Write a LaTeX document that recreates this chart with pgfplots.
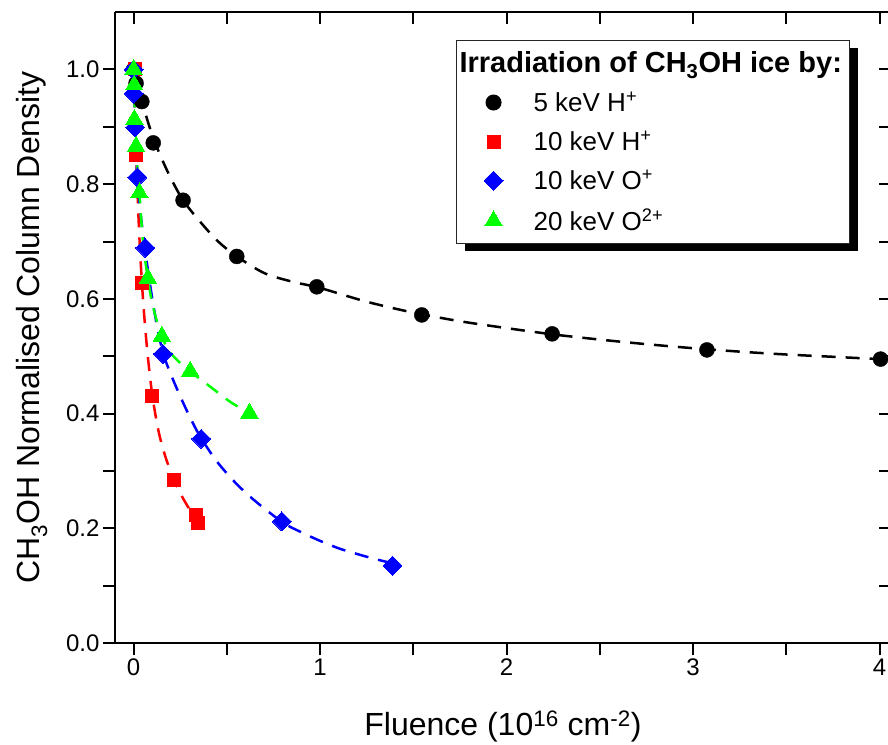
\documentclass[border=0pt]{standalone}
\usepackage{fontspec}
\setmainfont{Liberation Sans}
\usepackage{pgfplots}
\pgfplotsset{compat=1.18}
\usetikzlibrary{shadows,calc}

\pgfplotstableread{
x y
0 1.0
0.013 0.976
0.044 0.944
0.105 0.872
0.265 0.772
0.553 0.674
0.982 0.621
1.545 0.572
2.244 0.539
3.074 0.511
4.005 0.495
}\blackdata

\pgfplotstableread{
x y
0.008 1.0
0.013 0.851
0.044 0.627
0.098 0.430
0.217 0.284
0.335 0.224
0.344 0.210
}\reddata

\pgfplotstableread{
x y
0 1.0
0 0.958
0.008 0.899
0.02 0.812
0.062 0.689
0.157 0.504
0.362 0.356
0.794 0.212
1.388 0.135
}\bluedata

\pgfplotstableread{
x y
0 1.0
0.003 0.973
0.004 0.913
0.013 0.866
0.031 0.785
0.076 0.636
0.151 0.535
0.303 0.474
0.621 0.401
}\greendata

\pgfplotstableread{
x y
0 1.0
0.02 0.97
0.05 0.937
0.1 0.885
0.15 0.845
0.2 0.810
0.265 0.772
0.35 0.737
0.45 0.701
0.553 0.674
0.7 0.645
0.85 0.630
1.0 0.619
1.25 0.595
1.5 0.576
1.75 0.561
2.0 0.549
2.25 0.538
2.5 0.529
2.75 0.521
3.0 0.514
3.25 0.508
3.5 0.503
3.75 0.499
4.06 0.494
}\blackfit

\pgfplotstableread{
x y
0 1.0
0.005 0.95
0.01 0.885
0.015 0.835
0.025 0.75
0.035 0.68
0.045 0.625
0.055 0.578
0.07 0.52
0.085 0.472
0.1 0.432
0.12 0.392
0.14 0.36
0.17 0.325
0.2 0.298
0.23 0.275
0.26 0.255
0.3 0.233
0.345 0.212
}\redfit

\pgfplotstableread{
x y
0 1.0
0.01 0.89
0.02 0.815
0.035 0.755
0.05 0.715
0.07 0.665
0.1 0.6
0.13 0.545
0.16 0.503
0.2 0.468
0.25 0.43
0.3 0.395
0.36 0.358
0.45 0.315
0.55 0.278
0.65 0.248
0.8 0.210
0.9 0.193
1.0 0.178
1.1 0.165
1.2 0.155
1.3 0.146
1.388 0.139
}\bluefit

\pgfplotstableread{
x y
0 1.0
0.01 0.89
0.02 0.83
0.031 0.785
0.05 0.70
0.076 0.636
0.1 0.592
0.13 0.555
0.16 0.527
0.2 0.505
0.25 0.488
0.3 0.474
0.374 0.456
0.45 0.437
0.52 0.42
0.621 0.40
}\greenfit

\begin{document}
\begin{tikzpicture}
\pgfplotsset{
  common/.style={
    scale only axis, width=775.8pt, height=630.9pt,
    xmin=-0.1, xmax=4.06, ymin=0, ymax=1.1,
    xtick={0,1,2,3,4}, minor xtick={0.5,1.5,2.5,3.5},
    ytick={0,0.2,0.4,0.6,0.8,1.0}, minor ytick={0.1,0.3,0.5,0.7,0.9},
    major tick length=12pt, minor tick length=12pt,
    tick style={line width=2pt, black},
    axis line style={line width=2pt, black, -},
  },
  markleg/.style={legend image code/.code={%
    \pgfpathmoveto{\pgfpoint{-31pt}{0pt}}\pgfpathlineto{\pgfpoint{38pt}{0pt}}\pgfusepath{use as bounding box}%
    \draw[mark repeat=2,mark phase=2,##1,only marks] plot coordinates {(-1pt,0pt) (0pt,0pt) (1pt,0pt)};}},
  fit/.style={forget plot, no marks, smooth, line width=2.5pt, dash pattern=on 14pt off 10pt},
}
\begin{axis}[
  common, name=main,
  axis x line*=bottom, axis y line*=left,
  tick align=outside,
  /pgf/number format/assume math mode=true,
  ticklabel style={font=\fontsize{24}{28}\selectfont},
  yticklabel style={/pgf/number format/.cd, fixed, fixed zerofill, precision=1},
  xlabel={Fluence (10\textsuperscript{16} cm\textsuperscript{-2})},
  ylabel={CH\textsubscript{3}OH Normalised Column Density},
  every axis x label/.style={at={(axis description cs:0.5,-0.147)}, anchor=base, font=\fontsize{32}{38}\selectfont},
  every axis y label/.style={at={(axis description cs:-0.0967,0.5)}, rotate=90, anchor=base, font=\fontsize{32}{38}\selectfont},
  legend cell align=left,
  legend style={at={(axis description cs:0.4396,0.9558)}, anchor=north west,
    draw=black!85, line width=1pt, fill=white,
    drop shadow={shadow xshift=8pt, shadow yshift=-8pt, fill=black, opacity=1},
    font=\fontsize{26}{30}\selectfont, row sep=14pt, inner xsep=6pt, inner ysep=9pt},
]
\addlegendimage{empty legend}
\addlegendentry{\hspace*{-74pt}\fontsize{29}{34}\selectfont\bfseries Irradiation of CH\textsubscript{3}OH ice by:\vrule depth 7pt width 0pt}

\addplot[only marks, mark=*, mark size=7.5pt, black, markleg] table {\blackdata};
\addlegendentry{5 keV H\textsuperscript{+}}
\addplot[only marks, mark=square*, mark size=6.5pt, red, mark options={draw=red, fill=red, line width=0pt}, markleg] table {\reddata};
\addlegendentry{10 keV H\textsuperscript{+}}
\addplot[only marks, mark=square*, mark size=6.7pt, blue, mark options={rotate=45, draw=blue, fill=blue, line width=0pt}, markleg] table {\bluedata};
\addlegendentry{10 keV O\textsuperscript{+}}
\addplot[only marks, mark=triangle*, mark size=10pt, green, mark options={draw=green, fill=green, line width=0pt}, markleg] table {\greendata};
\addlegendentry{20 keV O\textsuperscript{2+}}

\addplot[fit, black] table {\blackfit};
\addplot[fit, red] table {\redfit};
\addplot[fit, blue] table {\bluefit};
\addplot[fit, green] table {\greenfit};
\end{axis}
\begin{axis}[
  common,
  axis x line*=top, axis y line*=right,
  tick align=inside,
  xticklabels={}, yticklabels={},
]
\addplot[draw=none, forget plot] coordinates {(0,0)};
\end{axis}
\pgfresetboundingbox
\path[use as bounding box] ($(main.south west)+(-115pt,-101pt)$) rectangle ++(888pt,744pt);
\end{tikzpicture}
\end{document}
